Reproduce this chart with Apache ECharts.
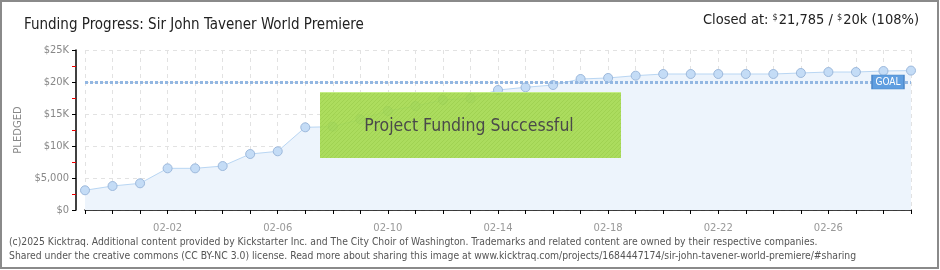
<!DOCTYPE html>
<html>
<head>
<meta charset="utf-8">
<script src="https://cdn.jsdelivr.net/npm/echarts@6/dist/echarts.min.js"></script>
<style>
html,body{margin:0;padding:0;background:#fff;}
#c{width:940px;height:270px;}
</style>
</head>
<body>
<div id="c"></div>
<script>
// ---- data ----
var dates = ['01-30','01-31','02-01','02-02','02-03','02-04','02-05','02-06','02-07','02-08','02-09','02-10','02-11','02-12','02-13','02-14','02-15','02-16','02-17','02-18','02-19','02-20','02-21','02-22','02-23','02-24','02-25','02-26','02-27','02-28','03-01'];
var pledged = [3080,3750,4170,6510,6510,6870,8750,9170,12920,13020,14170,15470,16250,17190,17450,18750,19170,19530,20470,20630,20990,21250,21250,21250,21250,21250,21410,21560,21560,21720,21785];
var goal = 20000;
var yTickLabels = {0:'$0',5000:'$5,000',10000:'$10K',15000:'$15K',20000:'$20K',25000:'$25K'};
var titleText = 'Funding Progress: Sir John Tavener World Premiere';
var closedAmount = '21,785';
var goalShort = '20k';
var percent = '108%';
var footer1 = '(c)2025 Kicktraq. Additional content provided by Kickstarter Inc. and The City Choir of Washington. Trademarks and related content are owned by their respective companies.';
var footer2 = 'Shared under the creative commons (CC BY-NC 3.0) license. Read more about sharing this image at www.kicktraq.com/projects/1684447174/sir-john-tavener-world-premiere/#sharing';
var bannerText = 'Project Funding Successful';

// hatch pattern for banner
var pc = document.createElement('canvas');
pc.width = 4; pc.height = 4;
var px = pc.getContext('2d');
px.fillStyle = 'rgba(162,216,72,0.88)';
px.fillRect(0,0,4,4);
px.strokeStyle = 'rgba(140,192,60,0.35)';
px.lineWidth = 1;
px.beginPath(); px.moveTo(0,4); px.lineTo(4,0); px.stroke();

var chart = echarts.init(document.getElementById('c'), null, {renderer:'canvas'});
var titleFont = '"DejaVu Sans Condensed", sans-serif';
var option = {
  animation: false,
  backgroundColor: '#fff',
  grid: {left: 85, right: 29, top: 50, bottom: 60},
  title: [{
    text: titleText, left: 19, top: 13,
    textStyle: {fontFamily: titleFont, fontSize: 15, fontWeight: 'normal', color: '#222'}
  }],
  xAxis: {
    type: 'category', data: dates, boundaryGap: false, offset: 10,
    axisLine: {lineStyle: {color: '#000', width: 1.5}},
    axisTick: {show: true, interval: 0, length: 4, inside: false, lineStyle: {color: '#000'}},
    axisLabel: {interval: function(i){return i % 4 === 3;}, color: '#999', fontSize: 10, margin: 3, fontFamily: 'DejaVu Sans, sans-serif'},
    splitLine: {show: true, interval: 0, lineStyle: {color: '#e2e2e2', type: [4,4]}}
  },
  yAxis: {
    type: 'value', min: 0, max: 25000, interval: 5000, offset: 9,
    name: 'PLEDGED', nameLocation: 'middle', nameGap: 52, nameRotate: 90,
    nameTextStyle: {color: '#888', fontSize: 10, fontFamily: 'DejaVu Sans, sans-serif'},
    axisLine: {show: true, lineStyle: {color: '#000', width: 1.5}},
    axisTick: {show: true, length: 4, lineStyle: {color: '#000'}},
    minorTick: {show: true, splitNumber: 2, length: 4, lineStyle: {color: '#e00'}},
    axisLabel: {formatter: function(v){return yTickLabels[v] || '';}, color: '#888', fontSize: 11, margin: 7, fontFamily: 'DejaVu Sans Condensed, sans-serif'},
    splitLine: {show: true, lineStyle: {color: '#e2e2e2', type: [4,4]}}
  },
  series: [{
    type: 'line', data: pledged, z: 2,
    symbol: 'circle', symbolSize: 9,
    lineStyle: {color: '#b9d6f3', width: 1},
    itemStyle: {color: '#c4dcf6', borderColor: '#9db9dc', borderWidth: 1},
    areaStyle: {color: '#edf4fc', opacity: 1},
    markLine: {
      silent: true, symbol: 'none', z: 3,
      lineStyle: {color: '#93b7e2', width: 3, type: [3,2]},
      label: {show: false},
      data: [{yAxis: goal}]
    },
    markPoint: {
      silent: true, z: 5,
      data: [{coord: [dates.length - 1, goal]}],
      symbol: 'rect', symbolSize: [32, 14], symbolOffset: [-23, 0],
      itemStyle: {color: '#5f9ee0', borderColor: '#4a86c8', borderWidth: 1},
      label: {show: true, position: 'inside', formatter: 'GOAL', color: '#fff', fontSize: 10, fontFamily: 'DejaVu Sans Condensed, sans-serif'}
    }
  }],
  graphic: [
    {type: 'rect', z: 100, shape: {x: 1, y: 1, width: 937, height: 267}, style: {fill: 'none', stroke: '#8a8a8a', lineWidth: 2}},
    {type: 'text', z: 100, right: 21, top: 13, style: {
      text: '{n|Closed at: }{s|$}{n|' + closedAmount + ' / }{s|$}{n|' + goalShort + ' (' + percent + ')}',
      rich: {n: {fontFamily: titleFont, fontSize: 14.5, fill: '#222'}, s: {fontFamily: titleFont, fontSize: 9, fill: '#222', verticalAlign: 'top', padding: [0,1,6,0]}}
    }},
    {type: 'rect', z: 50, shape: {x: 320, y: 92, width: 301, height: 66}, style: {fill: {image: pc, repeat: 'repeat'}}},
    {type: 'rect', z: 51, shape: {x: 320, y: 92, width: 301, height: 1}, style: {fill: 'rgba(200,240,140,0.9)'}},
    {type: 'text', z: 52, x: 469, y: 126, style: {
      text: bannerText, align: 'center', verticalAlign: 'middle',
      font: '17.5px "DejaVu Sans Condensed", sans-serif', fill: '#4a4a4a',
      shadowColor: '#fff', shadowOffsetX: 1, shadowOffsetY: 1, shadowBlur: 0
    }},
    {type: 'text', z: 100, left: 9, top: 237, style: {text: footer1, font: '10.3px "DejaVu Sans Condensed", sans-serif', fill: '#555'}},
    {type: 'text', z: 100, left: 9, top: 251, style: {text: footer2, font: '10.3px "DejaVu Sans Condensed", sans-serif', fill: '#555'}}
  ]
};
chart.setOption(option);
</script>
</body>
</html>
